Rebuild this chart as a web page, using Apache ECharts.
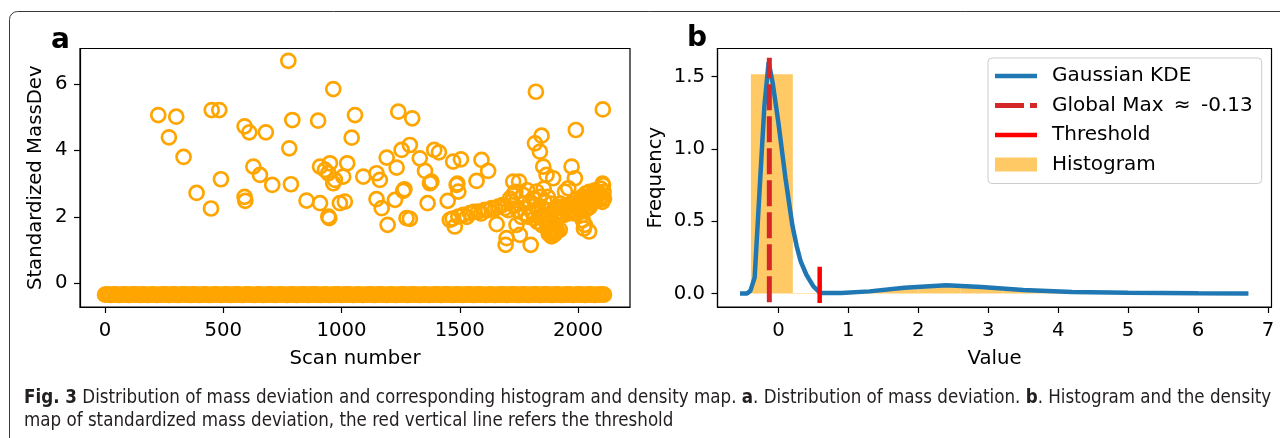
<!DOCTYPE html>
<html>
<head>
<meta charset="utf-8">
<script src="https://cdn.jsdelivr.net/npm/echarts@6/dist/echarts.min.js"></script>
<style>
  html, body { margin: 0; padding: 0; background: #fff; }
  #chart { width: 1280px; height: 438px; }
</style>
</head>
<body>
<div id="chart"></div>
<script>
// ---- panel a: standardized mass deviation per scan ----
// the dense band near -0.34, one value every 10 scans (scan 0 .. 2110)
const bandStep = 10;
const bandValues = [
  -0.34,-0.33,-0.35,-0.34,-0.33,-0.34,-0.35,-0.34,-0.33,-0.34,-0.35,-0.34,-0.33,-0.34,-0.34,-0.35,-0.33,-0.34,-0.35,-0.34,
  -0.33,-0.34,-0.35,-0.34,-0.34,-0.33,-0.34,-0.35,-0.34,-0.33,-0.34,-0.35,-0.34,-0.33,-0.34,-0.34,-0.35,-0.33,-0.34,-0.34,
  -0.35,-0.34,-0.33,-0.34,-0.35,-0.34,-0.34,-0.33,-0.34,-0.35,-0.34,-0.33,-0.34,-0.35,-0.34,-0.34,-0.33,-0.34,-0.35,-0.34,
  -0.33,-0.34,-0.34,-0.35,-0.34,-0.33,-0.34,-0.35,-0.34,-0.34,-0.33,-0.34,-0.35,-0.34,-0.33,-0.34,-0.34,-0.35,-0.34,-0.33,
  -0.34,-0.35,-0.34,-0.34,-0.33,-0.34,-0.35,-0.34,-0.33,-0.34,-0.34,-0.35,-0.34,-0.33,-0.34,-0.35,-0.34,-0.34,-0.33,-0.34,
  -0.35,-0.34,-0.33,-0.34,-0.34,-0.35,-0.34,-0.33,-0.34,-0.35,-0.34,-0.34,-0.33,-0.34,-0.35,-0.34,-0.33,-0.34,-0.34,-0.35,
  -0.34,-0.33,-0.34,-0.35,-0.34,-0.34,-0.33,-0.34,-0.35,-0.34,-0.33,-0.34,-0.34,-0.35,-0.34,-0.33,-0.34,-0.35,-0.34,-0.34,
  -0.33,-0.34,-0.35,-0.34,-0.33,-0.34,-0.34,-0.35,-0.34,-0.33,-0.34,-0.35,-0.34,-0.34,-0.33,-0.34,-0.35,-0.34,-0.33,-0.34,
  -0.34,-0.35,-0.34,-0.33,-0.34,-0.35,-0.34,-0.34,-0.33,-0.34,-0.35,-0.34,-0.33,-0.34,-0.34,-0.35,-0.34,-0.33,-0.34,-0.35,
  -0.34,-0.34,-0.33,-0.34,-0.35,-0.34,-0.33,-0.34,-0.34,-0.35,-0.34,-0.33,-0.34,-0.35,-0.34,-0.34,-0.33,-0.34,-0.35,-0.34,
  -0.33,-0.34,-0.34,-0.35,-0.34,-0.33,-0.34,-0.35,-0.34,-0.34,-0.33,-0.34
];
// scattered points above the band: [scan, value]
const outliers = [
  [225,5.06],[301,5.01],[270,4.39],[332,3.80],[451,5.21],[483,5.21],[490,3.13],[387,2.72],[448,2.25],
  [590,4.72],[610,4.54],[680,4.54],[590,2.60],[593,2.48],[627,3.51],[655,3.26],[707,2.96],
  [775,6.69],[965,5.84],[792,4.91],[901,4.89],[1057,5.06],[1043,4.38],[779,4.06],[786,2.98],
  [909,3.51],[930,3.41],[951,3.61],[944,3.31],[972,3.11],[1007,3.21],[1024,3.61],[965,3.01],
  [852,2.49],[909,2.41],[944,2.01],[948,1.96],[993,2.41],[1014,2.46],
  [1092,3.21],[1148,3.31],[1162,3.11],[1191,3.78],[1148,2.53],[1170,2.26],[1195,1.76],
  [1240,5.16],[1299,4.96],[1254,4.01],[1289,4.16],[1233,3.48],[1331,3.76],[1353,3.38],[1374,3.01],[1380,3.06],
  [1392,4.01],[1412,3.94],[1226,2.51],[1261,2.78],[1266,2.83],[1275,1.96],[1289,1.94],[1364,2.41],
  [1472,3.66],[1505,3.73],[1592,3.71],[1620,3.38],[1571,3.08],[1487,2.96],[1490,3.00],[1494,2.76],[1449,2.48],
  [1458,1.91],[1479,1.71],[1470,1.95],[1494,2.01],[1515,2.06],[1530,2.00],[1543,2.11],[1560,2.15],[1578,2.16],
  [1590,2.10],[1606,2.21],[1620,2.20],[1635,2.26],[1650,2.25],[1663,2.31],[1680,2.35],[1691,2.26],
  [1656,1.78],[1698,1.36],[1694,1.16],[1726,2.66],[1719,2.46],[1726,3.06],
  [1822,5.76],[2105,5.23],[1991,4.61],[1846,4.44],[1818,4.21],[1839,3.96],[1853,3.51],[1867,3.26],[1895,3.16],
  [1973,3.51],[1987,3.16],[1959,2.86],[1945,2.76],[1751,3.06],[1726,2.36],[1768,2.66],[1797,2.46],[1825,2.76],
  [1832,2.26],[1853,2.06],[1881,1.86],[1895,1.56],[1888,1.41],[1923,1.61],[1740,1.76],[1754,1.46],[1800,1.16],
  [2029,1.76],[2047,1.56],
  [1705,2.20],[1712,2.55],[1735,2.75],[1745,2.20],[1760,2.00],[1770,2.40],[1778,2.10],[1785,2.80],[1790,2.00],
  [1805,2.15],[1810,2.55],[1815,1.95],[1820,2.35],[1828,1.85],[1835,2.00],[1840,2.60],[1845,2.30],[1848,1.75],
  [1855,2.85],[1858,2.45],[1862,1.95],[1866,2.20],[1870,1.70],[1872,2.60],[1876,1.50],[1878,2.05],[1882,1.60],
  [1885,2.40],[1887,1.45],[1890,1.55],[1893,1.65],[1896,1.45],[1898,2.20],[1900,1.60],[1903,1.50],[1906,1.55],
  [1910,2.00],[1912,1.58],[1916,2.30],[1920,2.10],[1925,2.40],[1930,2.15],[1935,2.25],[1940,2.05],[1948,2.20],
  [1952,2.35],[1956,2.10],[1962,2.30],[1966,2.15],[1970,2.40],[1975,2.20],[1980,2.30],[1985,2.10],[1990,2.35],
  [1995,2.25],[2000,2.40],[2005,2.20],[2008,2.50],[2012,2.35],[2016,2.60],[2020,2.45],[2024,2.30],[2028,2.55],
  [2032,2.70],[2036,2.40],[2040,2.60],[2044,2.50],[2048,2.75],[2052,2.55],[2056,2.65],[2060,2.45],[2064,2.70],
  [2068,2.60],[2072,2.80],[2076,2.55],[2080,2.65],[2084,2.75],[2088,2.50],[2092,2.70],[2096,2.85],[2100,2.60],
  [2103,2.45],[2106,2.95],[2108,2.75],[2110,2.55],[2104,3.00],[2040,2.25],[2050,2.30],[2030,2.20],[2020,1.90],
  [2015,2.05],[2025,1.65]
];
const scanTicks = [0, 500, 1000, 1500, 2000];
const devTicks = [0, 2, 4, 6];

// ---- panel b: histogram + KDE of the standardized deviation ----
const kdeX = [-0.55,-0.45,-0.40,-0.34,-0.30,-0.25,-0.20,-0.14,-0.08,0.0,0.1,0.2,0.26,0.32,0.4,0.5,0.6,0.9,1.3,1.8,2.4,2.9,3.5,4.2,5.0,6.0,6.72];
const kdeY = [0,0,0.02,0.11,0.45,0.88,1.30,1.60,1.45,1.18,0.8,0.47,0.33,0.22,0.13,0.05,0.003,0.004,0.015,0.04,0.058,0.045,0.024,0.01,0.005,0.002,0.001];
const histEdges = [-0.394,0.206,0.806,1.406,2.006,2.606,3.206,3.806,4.406,5.006,5.606,6.206,6.806];
const histHeights = [1.516,0.004,0.012,0.03,0.05,0.04,0.02,0.008,0.004,0.003,0.002,0.002];
const globalMax = -0.13;
const globalMaxSpan = [-0.06, 1.63];
const threshold = 0.59;
const thresholdSpan = [-0.065, 0.185];
const valueTicks = [0, 1, 2, 3, 4, 5, 6, 7];
const freqTicks = [0, 0.5, 1.0, 1.5];

const FONT = 'DejaVu Sans';
const FS = 19.7;
const ORANGE = '#FFA500';
const CAPTION_FONT = '"Liberation Sans Narrow", "DejaVu Sans Condensed", "Liberation Sans", sans-serif';

const chart = echarts.init(document.getElementById('chart'), null, {renderer: 'canvas'});

function axisBase(ticks, margin, fmt) {
  return {
    type: 'value',
    scale: true,
    splitLine: {show: false},
    axisLine: {show: true, onZero: false, lineStyle: {color: '#000', width: 1.2}},
    axisTick: {show: true, length: 6, customValues: ticks, lineStyle: {color: '#000', width: 1.2}},
    axisLabel: {
      customValues: ticks, color: '#000', fontSize: FS, fontFamily: FONT, margin: margin,
      formatter: fmt || (v => String(v))
    },
    nameLocation: 'middle',
    nameTextStyle: {color: '#000', fontSize: FS, fontFamily: FONT}
  };
}

const scatterData = bandValues.map((v, i) => [i * bandStep, v]).concat(outliers);
const kdeData = kdeX.map((x, i) => [x, kdeY[i]]);
const histData = histHeights.map((h, i) => [histEdges[i], histEdges[i + 1], h]);

const option = {
  animation: false,
  backgroundColor: '#fff',
  grid: [
    {left: 80, top: 48.5, width: 550, height: 258.5, show: true, borderColor: '#000', borderWidth: 1.2},
    {left: 717.5, top: 48.5, width: 554, height: 258.5, show: true, borderColor: '#000', borderWidth: 1.2}
  ],
  xAxis: [
    Object.assign(axisBase(scanTicks, 14), {gridIndex: 0, min: -106, max: 2220, name: 'Scan number', nameGap: 42}),
    Object.assign(axisBase(valueTicks, 14), {gridIndex: 1, min: -0.871, max: 7.05, name: 'Value', nameGap: 42})
  ],
  yAxis: [
    Object.assign(axisBase(devTicks, 12.5), {gridIndex: 0, min: -0.71, max: 7.06, name: 'Standardized MassDev', nameGap: 34}),
    Object.assign(axisBase(freqTicks, 12.5, v => v.toFixed(1)), {gridIndex: 1, min: -0.093, max: 1.694, name: 'Frequency', nameGap: 52})
  ],
  legend: {
    left: 988, top: 58,
    orient: 'vertical',
    backgroundColor: 'rgba(255,255,255,0.8)',
    borderColor: '#cccccc', borderWidth: 1, borderRadius: 4,
    padding: [8, 9, 9, 7],
    itemWidth: 42, itemHeight: 14, itemGap: 9.5,
    textStyle: {color: '#000', fontSize: 20, fontFamily: FONT, padding: [0, 0, 0, 10], lineHeight: 20},
    data: [
      {name: 'Gaussian KDE', icon: 'path://M0,0H42V4.5H0Z'},
      {name: 'Global Max\u2009 ≈ \u2009-0.13', icon: 'path://M0,0H29V5H0Z M35,0H42V5H35Z'},
      {name: 'Threshold', icon: 'path://M0,0H42V4.5H0Z'},
      {name: 'Histogram', icon: 'rect'}
    ]
  },
  graphic: [
    // outer figure frame
    {type: 'rect', left: 7, top: 9, shape: {width: 1300, height: 460, r: 8},
     style: {fill: 'none', stroke: '#3a3a3a', lineWidth: 1}, silent: true, z: -10},
    {type: 'text', left: 51, top: 27, style: {text: 'a', font: 'bold 28px "DejaVu Sans"', fill: '#000'}},
    {type: 'text', left: 687, top: 25, style: {text: 'b', font: 'bold 28px "DejaVu Sans"', fill: '#000'}},
    {
      type: 'text', left: 24, top: 387,
      style: {
        text: '{b|Fig. 3} Distribution of mass deviation and corresponding histogram and density map. {b|a}. Distribution of mass deviation. {b|b}. Histogram and the density\nmap of standardized mass deviation, the red vertical line refers the threshold',
        font: '18.6px ' + CAPTION_FONT,
        fill: '#231f20', lineHeight: 23,
        rich: {
          b: {font: 'bold 18.6px ' + CAPTION_FONT, fill: '#231f20', lineHeight: 23}
        }
      }
    }
  ],
  series: [
    {
      type: 'scatter', xAxisIndex: 0, yAxisIndex: 0,
      data: scatterData,
      symbol: 'circle', symbolSize: 14,
      itemStyle: {color: 'rgba(0,0,0,0)', borderColor: ORANGE, borderWidth: 2.7, opacity: 1},
      large: false, progressive: 0
    },
    {
      name: 'Histogram', type: 'custom', xAxisIndex: 1, yAxisIndex: 1, z: 1,
      itemStyle: {color: '#FFC966'},
      data: histData,
      renderItem: (params, api) => {
        const p0 = api.coord([api.value(0), api.value(2)]);
        const p1 = api.coord([api.value(1), 0]);
        return {
          type: 'rect',
          shape: {x: p0[0], y: p0[1], width: p1[0] - p0[0], height: p1[1] - p0[1]},
          style: {fill: '#FFC966'}
        };
      }
    },
    {
      name: 'Gaussian KDE', type: 'line', xAxisIndex: 1, yAxisIndex: 1, z: 2,
      data: kdeData, showSymbol: false, symbol: 'none', smooth: false,
      lineStyle: {color: '#1f77b4', width: 4.5}, itemStyle: {color: '#1f77b4'}
    },
    {
      name: 'Global Max\u2009 ≈ \u2009-0.13', type: 'line', xAxisIndex: 1, yAxisIndex: 1, z: 3,
      data: globalMaxSpan.map(y => [globalMax, y]), showSymbol: false, symbol: 'none',
      lineStyle: {color: '#d62728', width: 5, type: [26, 6]}, itemStyle: {color: '#d62728'}
    },
    {
      name: 'Threshold', type: 'line', xAxisIndex: 1, yAxisIndex: 1, z: 4,
      data: thresholdSpan.map(y => [threshold, y]), showSymbol: false, symbol: 'none',
      lineStyle: {color: '#ff0000', width: 4.5}, itemStyle: {color: '#ff0000'}
    }
  ]
};

chart.setOption(option);
</script>
</body>
</html>
